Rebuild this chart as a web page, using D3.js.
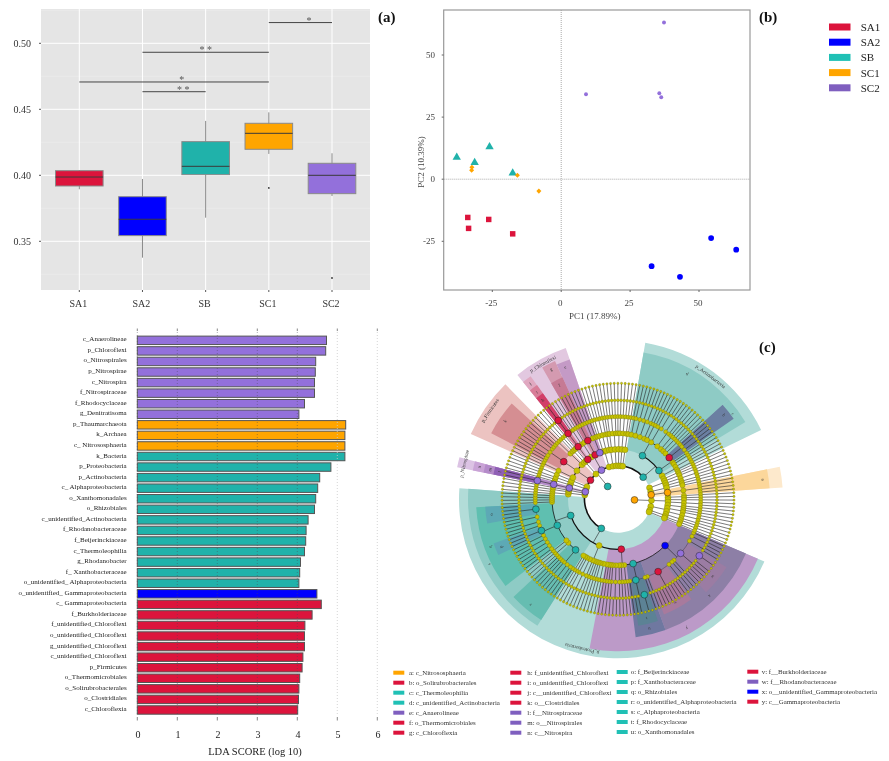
<!DOCTYPE html>
<html><head><meta charset="utf-8">
<script src="https://cdn.jsdelivr.net/npm/d3@7/dist/d3.min.js"></script>
<style>
html,body{margin:0;padding:0;background:#fff}
svg{display:block;filter:blur(.5px)}
text{font-family:"Liberation Serif",serif}
</style></head><body>
<svg id="c" width="889" height="761"></svg>
<script>
// ---------- data ----------
const groups = ["SA1","SA2","SB","SC1","SC2"];
const groupColors = ["#DC143C","#0000FF","#20B2AA","#FFA500","#9370DB"];
const legendColors = ["#DC143C","#0000FF","#20C0B5","#FFA500","#7F5FBF"];
const boxLow    = [0.3894,0.3376,0.3679,0.4162,0.3843];
const boxQ1     = [0.3919,0.3543,0.4005,0.4197,0.3861];
const boxMedian = [0.3987,0.3667,0.4068,0.4318,0.4000];
const boxQ3     = [0.4035,0.3838,0.4255,0.4394,0.4091];
const boxHigh   = [0.4040,0.3972,0.4412,0.4477,0.4167];
const boxOutliers = [null,null,null,0.3904,0.3222];
const boxTicks = [0.35,0.40,0.45,0.50];
const boxMinor = [0.325,0.375,0.425,0.475,0.525];
const bracketFrom = [3,1,0,1];
const bracketTo   = [4,3,3,2];
const bracketY    = [0.5157,0.4932,0.4707,0.4634];
const bracketMark = ["*","* *","*","* *"];
const bracketMarkPos = [3.636,2,1.62,1.646];

const pcaX = {
  SA1:[-33.9,-33.6,-26.3,-17.6],
  SA2:[32.8,43.1,54.4,63.5],
  SB:[-37.9,-26,-31.4,-17.6],
  SC1:[-32.4,-32.5,-15.9,-8.1],
  SC2:[37.3,9,35.6,36.3]};
const pcaY = {
  SA1:[-15.4,-19.8,-16.2,-22],
  SA2:[-35,-39.3,-23.7,-28.4],
  SB:[8.8,13,6.7,2.5],
  SC1:[4.8,3.6,1.6,-4.8],
  SC2:[63.1,34.2,34.6,33.0]};
const pcaTicksX = [-25,0,25,50];
const pcaTicksY = [-25,0,25,50];

const ldaNames = ["c_Anaerolineae","p_Chloroflexi","o_Nitrospirales","p_Nitrospirae","c_Nitrospira","f_Nitrospiraceae","f_Rhodocyclaceae","g_Denitratisoma","p_Thaumarchaeota","k_Archaea","c_ Nitrososphaeria","k_Bacteria","p_Proteobacteria","p_Actinobacteria","c_ Alphaproteobacteria","o_Xanthomonadales","o_Rhizobiales","c_unidentified_Actinobacteria","f_Rhodanobacteraceae","f_Beijerinckiaceae","c_Thermoleophilia","g_Rhodanobacter","f_ Xanthobacteraceae","o_unidentified_ Alphaproteobacteria","o_unidentified_ Gammaproteobacteria","c_ Gammaproteobacteria","f_Burkholderiaceae","f_unidentified_Chloroflexi","o_unidentified_Chloroflexi","g_unidentified_Chloroflexi","c_unidentified_Chloroflexi","p_Firmicutes","o_Thermomicrobiales","o_Solirubrobacterales","o_Clostridiales","c_Chloroflexia"];
const ldaValues = [4.73,4.71,4.46,4.45,4.43,4.43,4.18,4.04,5.21,5.19,5.19,5.19,4.84,4.56,4.51,4.46,4.43,4.27,4.22,4.21,4.18,4.08,4.06,4.04,4.49,4.6,4.37,4.19,4.18,4.18,4.14,4.12,4.06,4.04,4.03,4.01];
const ldaGroups = ["SC2","SC2","SC2","SC2","SC2","SC2","SC2","SC2","SC1","SC1","SC1","SB","SB","SB","SB","SB","SB","SB","SB","SB","SB","SB","SB","SB","SA2","SA1","SA1","SA1","SA1","SA1","SA1","SA1","SA1","SA1","SA1","SA1"];
const ldaTicks = [0,1,2,3,4,5,6];

// Taxonomy, clockwise. A leading string names a biomarker clade; a number n is n
// clades hanging from that node, running down to the species ring (0 = ends here).
const proteobacteria = ["Pp",
  ["y",
    ["x",[1],[2],[2],["w",["gW",0,0,0],2,3],[1],[1],[2],["v",3,2,3],[1]],
    ["u",[1],["t",["gR",0,0,0],2],[1]],
    [[1],[1]],[[1]],[[1]],[[2]],[[1]],[[1]],[[1]],[[1]]],
  [[[1],[1]],[[1]],[[1]],[[1]],[[1]],[[1]],[[2]],[[1]],[[1]],[[1]]],
  ["s",
    ["r",[1],[1],[2],[1],[1],[1],[1]],
    [[1],[1]],[[1]],
    ["q",[1],[2],[1],[2],[1],["p",1,2],[1],[2],[2],["o",2,2]],
    [[1]],[[1]],[[1]],[[1]]]];
const gapA = [[[[1],[1]],[[1]]],[[[1]]]];
const nitrospirae = ["Np",["n",["m",["l",1,1]]]];
const gapB = [[[[1],[1]],[[1]]],[[[2]]]];
const firmicutes = ["Fp",[[[1],[1]]],[["k",[1],[1],[1],[2],[1],[1],[1]]],[[[1],[1]]]];
const gapC = [[[[1],[1]],[[1]]]];
const chloroflexi = ["Cp",
  ["j",["i",["h",["hg",0,0]]]],
  [[[1],[1]],[[1]]],
  ["g",["f",[1],[1],[1]]],
  ["e",[[1],[1]],[[1]]]];
const gapD = [[[[1],[1]],[[2]]],[[[1],[1]],[[1]]],[[[2],[1]]],[[[1],[1]]],[[[2]]],[[[1],[1]]]];
const actinobacteria = ["Ap",
  ["d",[[1],[1]],[[2]],[[1],[2]],[[1]],[[1],[1]],[[1],[2]],[[2],[1]],[[1],[1]],[[1]],[[1],[1]]],
  ["c",["b",[1],[1],[2]],[[1]],[[1]]],
  [[[1],[1]],[[1]]]];
const archaeaGap1 = [[[[1],[1]],[[1]],[[2]],[[1]]],[[[1],[1]]]];
const thaumarchaeota = ["Tp",["a",[[1],[1],[1],[1]]]];
const archaeaGap2 = [[[[1],[1]],[[1]],[[2]],[[1],[1]]],[[[1],[1]],[[2]]],[[[1],[1]],[[1]]],[[[1]]]];
const bacteria = ["kB",proteobacteria,...gapA,nitrospirae,...gapB,firmicutes,...gapC,chloroflexi,...gapD,actinobacteria];
const archaea = ["kA",...archaeaGap1,thaumarchaeota,...archaeaGap2];

const cladeGroup = {kB:"SB",Pp:"SB",y:"SA1",x:"SA2",w:"SC2",gW:"SC2",v:"SA1",u:"SB",t:"SB",gR:"SB",s:"SB",r:"SB",q:"SB",p:"SB",o:"SB",
  Np:"SC2",n:"SC2",m:"SC2",l:"SC2",Fp:"SA1",k:"SA1",Cp:"SC2",j:"SA1",i:"SA1",h:"SA1",hg:"SA1",g:"SA1",f:"SA1",e:"SC2",
  Ap:"SB",d:"SB",c:"SB",b:"SA1",kA:"SC1",Tp:"SC1",a:"SC1"};
const cladeFill = {Pp:"#b2dcd8",y:"#bc9ac8",x:"#8d7fa6",w:"#9b7ca3",v:"#a87a9d",u:"#6f78a0",t:"#5c8295",s:"#8ecbc5",r:"#66bdb1",q:"#5fbfb0",p:"#5da9b5",o:"#5da9b5",
  Np:"#dcc3e4",n:"#c9a3d6",m:"#b48bc9",l:"#8f5fb5",Fp:"#ecc3c1",k:"#d58e92",Cp:"#e2c8e0",j:"#e0a8c0",i:"#d87d98",h:"#d23e68",g:"#d49ab0",f:"#c67a94",e:"#c49ac6",
  Ap:"#b2dcd8",d:"#8ecbc5",c:"#8ecbc5",b:"#6b7fa2",Tp:"#fde9cc",a:"#fcd79b"};
const cladeOuter = {Pp:159,y:152,x:139,w:128,v:124,u:139,t:128,s:150,r:143,q:142,p:132,o:133,Np:164,n:148,m:137,l:127,Fp:161,k:143,Cp:160,j:151,i:140,h:130,g:152,f:134,e:148,Ap:159,d:149,c:149,b:141,Tp:165,a:152};
const phylumLabels = {Pp:"p_Proteobacteria",Np:"p_Nitrospirae",Fp:"p_Firmicutes",Cp:"p_Chloroflexi",Ap:"p_Actinobacteria"};
const ringRadii = [0,16.5,33.5,50,66,82.7,99,116];

const legendCol1 = [["a: c_Nitrososphaeria","SC1"],["b: o_Solirubrobacterales","SA1"],["c: c_Thermoleophilia","SB"],["d: c_unidentified_Actinobacteria","SB"],["e: c_Anaerolineae","SC2"],["f: o_Thermomicrobiales","SA1"],["g: c_Chloroflexia","SA1"]];
const legendCol2 = [["h: f_unidentified_Chloroflexi","SA1"],["i: o_unidentified_Chloroflexi","SA1"],["j: c__unidentified_Chloroflexi","SA1"],["k: o__Clostridiales","SA1"],["l: f__Nitrospiraceae","SC2"],["m: o__Nitrospirales","SC2"],["n: c__Nitrospira","SC2"]];
const legendCol3 = [["o: f_Beijerinckiaceae","SB"],["p: f_Xanthobacteraceae","SB"],["q: o_Rhizobiales","SB"],["r: o_unidentified_Alphaproteobacteria","SB"],["s: c_Alphaproteobacteria","SB"],["t: f_Rhodocyclaceae","SB"],["u: o_Xanthomonadales","SB"]];
const legendCol4 = [["v: f__Burkholderiaceae","SA1"],["w: f__Rhodanobacteraceae","SC2"],["x: o__unidentified_Gammaproteobacteria","SA2"],["y: c__Gammaproteobacteria","SA1"]];

// ---------- drawing ----------
const svg = d3.select("#c");
const colorOf = d3.scaleOrdinal(groups,groupColors);

// ---- box plot
(function(){
  const L=41,R=370,T=9,B=290;
  const x=d3.scaleLinear([0,4],[79.3,332]);
  const y=d3.scaleLinear([0.35,0.50],[241.3,43.3]);
  const g=svg.append("g");
  g.append("rect").attr("x",L).attr("y",T).attr("width",R-L).attr("height",B-T).attr("fill","#E5E5E5");
  g.selectAll(".mn").data(boxMinor).join("line").attr("x1",L).attr("x2",R).attr("y1",d=>y(d)).attr("y2",d=>y(d)).attr("stroke","#efefef").attr("stroke-width",.5);
  g.selectAll(".mj").data(boxTicks).join("line").attr("x1",L).attr("x2",R).attr("y1",d=>y(d)).attr("y2",d=>y(d)).attr("stroke","#fff").attr("stroke-width",1);
  g.selectAll(".vg").data(groups).join("line").attr("x1",(d,i)=>x(i)).attr("x2",(d,i)=>x(i)).attr("y1",T).attr("y2",B).attr("stroke","#fff").attr("stroke-width",1);
  const hw=23.8;
  groups.forEach((name,i)=>{
    g.append("line").attr("x1",x(i)).attr("x2",x(i)).attr("y1",y(boxLow[i])).attr("y2",y(boxHigh[i])).attr("stroke","#8a8a8a").attr("stroke-width",1);
    g.append("rect").attr("x",x(i)-hw).attr("width",hw*2).attr("y",y(boxQ3[i])).attr("height",y(boxQ1[i])-y(boxQ3[i])).attr("fill",groupColors[i]).attr("stroke","#8a8a8a").attr("stroke-width",1);
    g.append("line").attr("x1",x(i)-hw).attr("x2",x(i)+hw).attr("y1",y(boxMedian[i])).attr("y2",y(boxMedian[i])).attr("stroke","#3a3a3a").attr("stroke-width",1);
    if(boxOutliers[i]!=null) g.append("circle").attr("cx",x(i)).attr("cy",y(boxOutliers[i])).attr("r",.9).attr("fill","#333");
    g.append("line").attr("x1",x(i)).attr("x2",x(i)).attr("y1",B).attr("y2",B+2).attr("stroke","#555");
    g.append("text").attr("x",x(i)-1).attr("y",307).attr("text-anchor","middle").attr("font-size",10).attr("fill","#333").text(name);
  });
  boxTicks.forEach(t=>{
    g.append("line").attr("x1",L-2).attr("x2",L).attr("y1",y(t)).attr("y2",y(t)).attr("stroke","#555");
    g.append("text").attr("x",31).attr("y",y(t)+3.2).attr("text-anchor","end").attr("font-size",10).attr("fill","#333").text(t.toFixed(2));
  });
  bracketY.forEach((v,i)=>{
    g.append("line").attr("x1",x(bracketFrom[i])).attr("x2",x(bracketTo[i])).attr("y1",y(v)).attr("y2",y(v)).attr("stroke",i==3?"#666":"#444").attr("stroke-width",i==3?1.3:1);
    g.append("text").attr("x",x(bracketMarkPos[i])).attr("y",y(v)+1.2).attr("text-anchor","middle").attr("font-size",10).attr("fill","#555").text(bracketMark[i]);
  });
})();

// ---- panel letters
[["(a)",378,21.5],["(b)",759,21.5],["(c)",759,351.5]].forEach(d=>{
  svg.append("text").attr("x",d[1]).attr("y",d[2]).attr("font-size",15).attr("font-weight","bold").attr("fill","#111").text(d[0]);
});

// ---- PCA
(function(){
  const L=443.7,R=750,T=10,B=290;
  const x=d3.scaleLinear([-25,50],[492.3,699]);
  const y=d3.scaleLinear([-25,50],[241.3,55]);
  const g=svg.append("g");
  g.append("line").attr("x1",x(0)).attr("x2",x(0)).attr("y1",T).attr("y2",B).attr("stroke","#aaa").attr("stroke-dasharray","1,1");
  g.append("line").attr("x1",L).attr("x2",R).attr("y1",y(0)).attr("y2",y(0)).attr("stroke","#aaa").attr("stroke-dasharray","1,1");
  const sym={SA1:[d3.symbolSquare,30],SA2:[d3.symbolCircle,26],SB:[d3.symbolTriangle,30],SC1:[d3.symbolDiamond2,16],SC2:[d3.symbolCircle,12]};
  groups.forEach(name=>{
    g.selectAll(null).data(pcaX[name]).join("path")
      .attr("d",d3.symbol(sym[name][0],sym[name][1]))
      .attr("transform",(d,i)=>`translate(${x(d)},${y(pcaY[name][i])})`)
      .attr("fill",colorOf(name));
  });
  g.append("rect").attr("x",L).attr("y",T).attr("width",R-L).attr("height",B-T).attr("fill","none").attr("stroke","#999").attr("stroke-width",1.2);
  pcaTicksX.forEach(t=>{
    g.append("line").attr("x1",x(t)).attr("x2",x(t)).attr("y1",B).attr("y2",B+2).attr("stroke","#666");
    g.append("text").attr("x",x(t)-1).attr("y",306).attr("text-anchor","middle").attr("font-size",9).attr("fill","#444").text(t);
  });
  pcaTicksY.forEach(t=>{
    g.append("line").attr("x1",L-2).attr("x2",L).attr("y1",y(t)).attr("y2",y(t)).attr("stroke","#666");
    g.append("text").attr("x",435).attr("y",y(t)+3).attr("text-anchor","end").attr("font-size",9).attr("fill","#444").text(t);
  });
  g.append("text").attr("x",594.7).attr("y",319).attr("text-anchor","middle").attr("font-size",9).attr("fill","#444").text("PC1 (17.89%)");
  g.append("text").attr("transform","translate(424,162) rotate(-90)").attr("text-anchor","middle").attr("font-size",9).attr("fill","#444").text("PC2 (10.39%)");
  groups.forEach((name,i)=>{
    g.append("rect").attr("x",829).attr("y",23.5+i*15.2).attr("width",21.5).attr("height",7).attr("fill",legendColors[i]);
    g.append("text").attr("x",860.7).attr("y",31+i*15.2).attr("font-size",11).attr("fill","#222").text(name);
  });
})();

// ---- LDA bars
(function(){
  const x=d3.scaleLinear([0,6],[137.3,377.3]);
  const y=d3.scaleBand(ldaNames,[334,716.3]).padding(0.2);
  const g=svg.append("g");
  g.selectAll("rect").data(ldaNames).join("rect")
    .attr("x",x(0)).attr("y",d=>y(d)).attr("width",(d,i)=>x(ldaValues[i])-x(0)).attr("height",y.bandwidth())
    .attr("fill",(d,i)=>colorOf(ldaGroups[i])).attr("stroke","#555").attr("stroke-width",1);
  g.selectAll(".n").data(ldaNames).join("text")
    .attr("x",126.7).attr("y",d=>y(d)+y.bandwidth()/2+1).attr("text-anchor","end").attr("font-size",7).attr("fill","#222").text(d=>d);
  ldaTicks.forEach(t=>{
    g.append("line").attr("x1",x(t)).attr("x2",x(t)).attr("y1",332).attr("y2",715).attr("stroke",t>=5?"#ccc":"#445").attr("stroke-opacity",t>=5?1:.55).attr("stroke-width",.8).attr("stroke-dasharray","1,2");
    [[328.5,331],[717,720.5]].forEach(p=>g.append("line").attr("x1",x(t)).attr("x2",x(t)).attr("y1",p[0]).attr("y2",p[1]).attr("stroke","#888"));
    g.append("text").attr("x",x(t)+.7).attr("y",738).attr("text-anchor","middle").attr("font-size",10).attr("fill","#222").text(t);
  });
  g.append("text").attr("x",255).attr("y",755).attr("text-anchor","middle").attr("font-size",10.5).attr("fill","#222").text("LDA SCORE (log 10)");
})();

// ---- cladogram
(function(){
  const GENUS=6;
  const leaf=()=>({clade:null,kids:null});
  // expand one entry that hangs from a parent at depth d into a list of nodes at depth d+1
  function expand(a,d){
    if(typeof a==="number"){
      if(a===0) return [leaf()];
      const out=[];
      for(let i=0;i<a;i++){
        if(d+1===GENUS) out.push({clade:null,kids:[leaf()]});
        else out.push({clade:null,kids:expand(1,d+1)});
      }
      return out;
    }
    const named=typeof a[0]==="string";
    const list=named?a.slice(1):a;
    return [{clade:named?a[0]:null,kids:list.flatMap(c=>expand(c,d+1))}];
  }
  const tree={clade:null,kids:[...expand(bacteria,0),...expand(archaea,0)]};
  const root=d3.hierarchy(tree,d=>d.kids);
  d3.cluster().size([360,1]).separation(()=>1)(root);
  const start=113;
  const ang=n=>n.x+start;
  const rad=a=>a*Math.PI/180;
  const step=360/root.leaves().length;
  const pt=(a,r)=>[r*Math.sin(rad(a)),-r*Math.cos(rad(a))];
  const g=svg.append("g").attr("transform","translate(618,499.3)");
  const nodes=root.descendants().filter(n=>n.depth>0);
  nodes.forEach(n=>{n.clade=n.data.clade});
  // wedges
  const arc=d3.arc();
  nodes.filter(n=>cladeFill[n.clade]).forEach(n=>{
    const lv=n.leaves();
    const a0=d3.min(lv,ang)-step/2,a1=d3.max(lv,ang)+step/2;
    n.a0=a0;n.a1=a1;
    g.append("path").attr("fill",cladeFill[n.clade])
      .attr("d",arc({innerRadius:ringRadii[n.depth],outerRadius:cladeOuter[n.clade],startAngle:rad(a0),endAngle:rad(a1)}));
  });
  // links
  const widths=[0,.5,1.6,1.2,.8,.3,.2,.1];
  nodes.filter(n=>n.children).forEach(n=>{
    const r0=ringRadii[n.depth],r1=ringRadii[n.depth+1];
    const p=d3.path();
    const [a,b]=[pt(ang(n),r0),pt(ang(n),r1)];
    p.moveTo(a[0],a[1]);p.lineTo(b[0],b[1]);
    g.append("path").attr("d",p.toString()).attr("fill","none").attr("stroke","#222").attr("stroke-width",.6);
    const q=d3.path();
    const a0=ang(n.children[0]),a1=ang(n.children[n.children.length-1]);
    const s=pt(a0,r1);
    q.moveTo(s[0],s[1]);
    q.arc(0,0,r1,rad(a0-90),rad(a1-90));
    g.append("path").attr("d",q.toString()).attr("fill","none").attr("stroke","#111").attr("stroke-width",widths[n.depth+1]);
  });
  // nodes
  const olive=[0,3,3,3,2.6,2.1,1.45,1.15];
  nodes.filter(n=>!cladeGroup[n.clade]).forEach(n=>{
    const c=pt(ang(n),ringRadii[n.depth]);
    g.append("circle").attr("cx",c[0]).attr("cy",c[1]).attr("r",olive[n.depth]).attr("fill","#C6C200").attr("stroke","#707010").attr("stroke-width",.35);
  });
  nodes.filter(n=>cladeGroup[n.clade]).forEach(n=>{
    const c=pt(ang(n),ringRadii[n.depth]);
    g.append("circle").attr("cx",c[0]).attr("cy",c[1]).attr("r",3.4).attr("fill",colorOf(cladeGroup[n.clade])).attr("stroke","#222").attr("stroke-width",.5);
  });
  // labels
  nodes.filter(n=>cladeOuter[n.clade]).forEach(n=>{
    const mid=(n.a0+n.a1)/2;
    const isP=phylumLabels[n.clade];
    let r=cladeOuter[n.clade]-(isP?5:5.5);
    if(n.clade==="Np") r=158;
    const c=pt(mid,r);
    const t=isP||(n.clade==="Tp"?"":n.clade);
    if(t) g.append("text").attr("transform",`translate(${c[0]},${c[1]}) rotate(${mid})`).attr("text-anchor","middle").attr("dy","0.35em").attr("font-size",isP?5.2:4.5).attr("fill","#333").text(t);
  });
})();

// ---- cladogram legend
[[legendCol1,393.3,409,672.7],[legendCol2,510.3,527.3,672.7],[legendCol3,616.7,630.7,672],[legendCol4,747.3,761.7,671.7]].forEach(col=>{
  const g=svg.append("g");
  col[0].forEach((d,i)=>{
    const y=col[3]+i*10;
    const c=d[1]==="SB"?"#20C0B5":d[1]==="SC2"?"#7F5FBF":colorOf(d[1]);
    g.append("rect").attr("x",col[1]).attr("y",y-2).attr("width",11).attr("height",4).attr("fill",c);
    g.append("text").attr("x",col[2]).attr("y",y+1.8).attr("font-size",6.9).attr("fill","#333").text(d[0]);
  });
});
</script>
</body></html>
